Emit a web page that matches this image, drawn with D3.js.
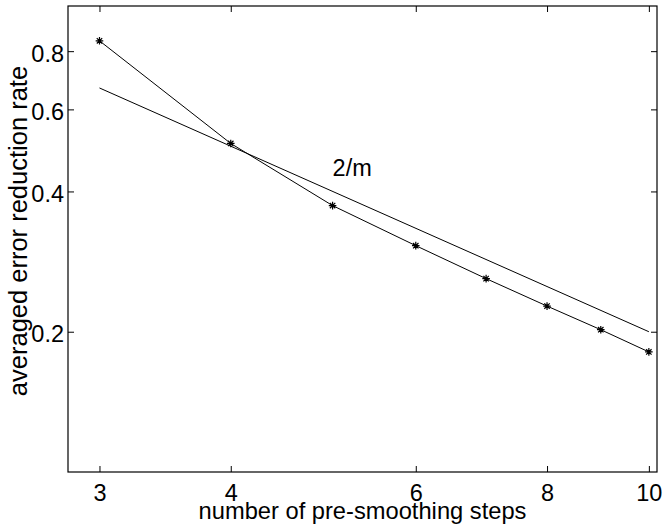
<!DOCTYPE html>
<html lang="en">
<head>
<meta charset="utf-8">
<title>averaged error reduction rate</title>
<script src="https://d3js.org/d3.v7.min.js"></script>
<style>
  body { margin: 0; background: #fff; }
  text { font-family: "Liberation Sans", Arial, Helvetica, sans-serif; fill: #000; }
</style>
</head>
<body>
<script>
// measured rates per number of pre-smoothing steps
var steps = [3, 4, 5, 6, 7, 8, 9, 10];
var rates = [0.842, 0.507, 0.373, 0.306, 0.260, 0.227, 0.202, 0.181];
// reference line 2/m
var refSteps = [3, 10];
var refRates = [0.667, 0.2];
var xTicks = [3, 4, 6, 8, 10];
var yTicks = [0.2, 0.4, 0.6, 0.8];

var w = 663, h = 530;
var plotL = 68, plotR = 657, plotT = 6, plotB = 472;

var svg = d3.select("body").append("svg")
    .attr("width", w)
    .attr("height", h);

var x = d3.scaleLog().domain([2.8, 10.18]).range([plotL, plotR]);
var y = d3.scaleLog().domain([0.1, 1]).range([plotB, plotT]);

// axes, ticks inward
var xAxis = d3.axisBottom(x).tickValues(xTicks).tickFormat(d3.format("d"))
    .tickSizeInner(-6).tickSizeOuter(0).tickPadding(12);
var yAxis = d3.axisLeft(y).tickValues(yTicks).tickFormat(d3.format(".1f"))
    .tickSizeInner(-6).tickSizeOuter(0).tickPadding(4);

var gx = svg.append("g").attr("transform", "translate(0," + plotB + ")").call(xAxis);
var gy = svg.append("g").attr("transform", "translate(" + plotL + ",0)").call(yAxis);
svg.append("g").attr("transform", "translate(0," + plotT + ")")
    .call(d3.axisTop(x).tickValues(xTicks).tickFormat("").tickSizeInner(-6).tickSizeOuter(0));
svg.append("g").attr("transform", "translate(" + plotR + ",0)")
    .call(d3.axisRight(y).tickValues(yTicks).tickFormat("").tickSizeInner(-6).tickSizeOuter(0));

svg.selectAll(".domain").remove();
svg.selectAll(".tick line").attr("stroke", "#000").attr("stroke-width", 1);
gx.selectAll("text").style("font-size", "23.5px").attr("dy", "0.71em");
gy.selectAll("text").style("font-size", "23.5px").attr("dy", "0.43em");

// box
svg.append("rect")
    .attr("x", plotL).attr("y", plotT)
    .attr("width", plotR - plotL).attr("height", plotB - plotT)
    .attr("fill", "none").attr("stroke", "#000").attr("stroke-width", 1.2);

var line = d3.line()
    .x(function(d) { return x(d[0]); })
    .y(function(d) { return y(d[1]); });

svg.append("path")
    .datum(d3.zip(refSteps, refRates))
    .attr("d", line)
    .attr("fill", "none").attr("stroke", "#000").attr("stroke-width", 1);

svg.append("path")
    .datum(d3.zip(steps, rates))
    .attr("d", line)
    .attr("fill", "none").attr("stroke", "#000").attr("stroke-width", 1);

// asterisk markers
function star(cx, cy) {
    var p = d3.path(), a = 3.8, b = 2.7;
    p.moveTo(cx - a, cy); p.lineTo(cx + a, cy);
    p.moveTo(cx, cy - a); p.lineTo(cx, cy + a);
    p.moveTo(cx - b, cy - b); p.lineTo(cx + b, cy + b);
    p.moveTo(cx - b, cy + b); p.lineTo(cx + b, cy - b);
    return p.toString();
}
svg.selectAll("path.mark")
    .data(d3.zip(steps, rates))
    .enter().append("path")
    .attr("class", "mark")
    .attr("d", function(d) { return star(x(d[0]), y(d[1])); })
    .attr("stroke", "#000").attr("stroke-width", 1.2).attr("fill", "none");

// annotation
svg.append("text")
    .attr("x", x(5)).attr("y", y(0.431))
    .style("font-size", "23.5px")
    .text("2/m");

// axis labels
svg.append("text")
    .attr("x", (plotL + plotR) / 2).attr("y", 519)
    .attr("text-anchor", "middle")
    .style("font-size", "23.7px")
    .text("number of pre-smoothing steps");

svg.append("text")
    .attr("transform", "translate(27,231) rotate(-90)")
    .attr("text-anchor", "middle")
    .style("font-size", "25.5px")
    .text("averaged error reduction rate");
</script>
</body>
</html>
